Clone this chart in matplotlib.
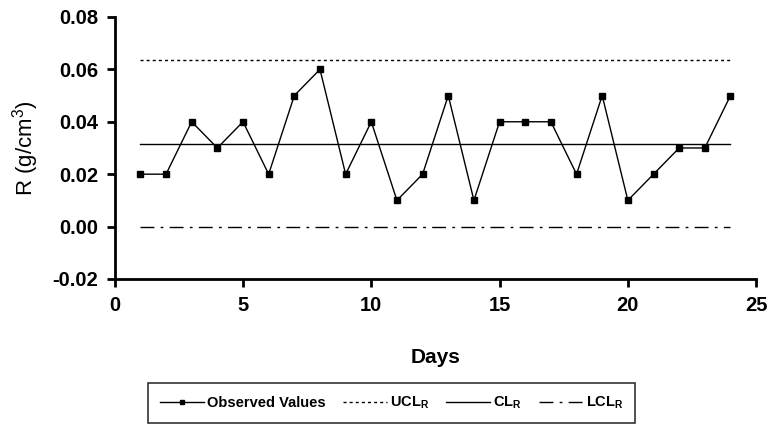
import matplotlib
matplotlib.use("Agg")
import matplotlib.pyplot as plt

plt.rcParams['font.family'] = ['Liberation Sans', 'DejaVu Sans']
plt.rcParams['mathtext.fontset'] = 'custom'
plt.rcParams['mathtext.bf'] = 'Liberation Sans:bold'
plt.rcParams['mathtext.rm'] = 'Liberation Sans'

days = list(range(1, 25))
ranges = [0.02, 0.02, 0.04, 0.03, 0.04, 0.02, 0.05, 0.06, 0.02, 0.04, 0.01, 0.02,
          0.05, 0.01, 0.04, 0.04, 0.04, 0.02, 0.05, 0.01, 0.02, 0.03, 0.03, 0.05]
ucl = 0.0636
cl = 0.0316
lcl = 0.0

fig = plt.figure(figsize=(7.7, 4.24), dpi=100)
ax = fig.add_axes([0.149, 0.342, 0.833, 0.618])

ax.plot(days, ranges, color='black', lw=1, marker='s', ms=4.5,
        label='Observed Values')
ax.plot(days, [ucl] * len(days), color='black', lw=1, dashes=(2.2, 2.2),
        label=r'UCL$_{\mathbf{R}}$')
ax.plot(days, [cl] * len(days), color='black', lw=1, label=r'CL$_{\mathbf{R}}$')
ax.plot(days, [lcl] * len(days), color='black', lw=1, dashes=(10, 4.5, 2, 4.5),
        label=r'LCL$_{\mathbf{R}}$')

ax.set_xlim(0, 25)
ax.set_ylim(-0.02, 0.08)
ax.set_xticks([0, 5, 10, 15, 20, 25])
ax.set_yticks([-0.02, 0.0, 0.02, 0.04, 0.06, 0.08])
ax.set_yticklabels([f'{v:.2f}' for v in ax.get_yticks()])

for s in ['top', 'right']:
    ax.spines[s].set_visible(False)
for s in ['left', 'bottom']:
    ax.spines[s].set_linewidth(2)
ax.tick_params(width=2, length=6, labelsize=14.5, pad=6)
for lab in ax.get_xticklabels() + ax.get_yticklabels():
    lab.set_fontweight('bold')

ax.set_xlabel('Days', fontsize=15, fontweight='bold', labelpad=24)
ax.set_ylabel(r'R (g/cm$^3$)', fontsize=16, labelpad=8)

leg = ax.legend(loc='upper center', bbox_to_anchor=(0.432, -0.397), ncol=4,
                frameon=True, fancybox=False, edgecolor='black',
                prop={'weight': 'bold', 'size': 10.5}, handlelength=3.0,
                columnspacing=1.2, borderpad=0.8, handletextpad=0.2,
                markerscale=0.7, borderaxespad=0)
leg.get_frame().set_linewidth(1.2)

fig.savefig('out.png', dpi=100)
